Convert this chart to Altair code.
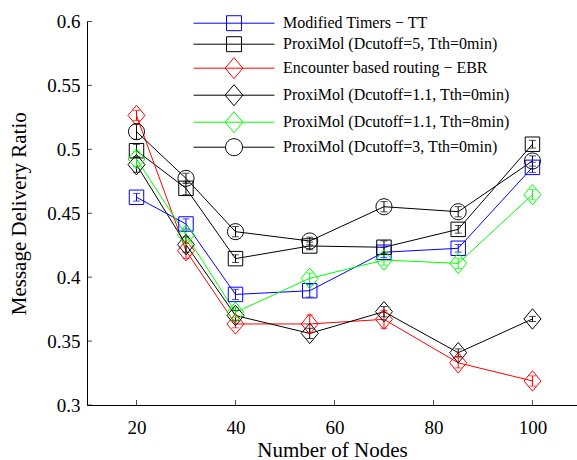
import altair as alt
import pandas as pd

nodes = [20, 30, 40, 55, 70, 85, 100]
series_names = [
    "Modified Timers − TT",
    "ProxiMol (Dcutoff=5, Tth=0min)",
    "Encounter based routing − EBR",
    "ProxiMol (Dcutoff=1.1, Tth=0min)",
    "ProxiMol (Dcutoff=1.1, Tth=8min)",
    "ProxiMol (Dcutoff=3, Tth=0min)",
]
tt_vals = [0.4625, 0.4416, 0.3865, 0.3894, 0.4195, 0.4226, 0.4859]
d5_vals = [0.4989, 0.4695, 0.4145, 0.4244, 0.4234, 0.4374, 0.5040]
ebr_vals = [0.5265, 0.4207, 0.3634, 0.3634, 0.3670, 0.3330, 0.3188]
d11t0_vals = [0.4880, 0.4255, 0.3700, 0.3560, 0.3730, 0.3409, 0.3673]
d11t8_vals = [0.4925, 0.4330, 0.3725, 0.3991, 0.4134, 0.4108, 0.4645]
d3_vals = [0.5138, 0.4773, 0.4356, 0.4283, 0.4551, 0.4512, 0.4909]

tt_err = [0.003, 0.004, 0.004, 0.005, 0.004, 0.003, 0.004]
d5_err = [0.005, 0.005, 0.003, 0.003, 0.005, 0.003, 0.003]
ebr_err = [0.004, 0.006, 0.003, 0.007, 0.007, 0.004, 0.004]
d11t0_err = [0.006, 0.006, 0.004, 0.004, 0.004, 0.003, 0.002]
d11t8_err = [0.006, 0.004, 0.004, 0.004, 0.004, 0.004, 0.004]
d3_err = [0.006, 0.004, 0.004, 0.003, 0.004, 0.004, 0.004]

series_colors = ["#0000ff", "#000000", "#ff0000", "#000000", "#00ff00", "#000000"]

x_ticks = [20, 40, 60, 80, 100]
y_ticks = [0.3, 0.35, 0.4, 0.45, 0.5, 0.55, 0.6]
x_domain = [10, 109]
y_domain = [0.3, 0.6]

all_vals = [tt_vals, d5_vals, ebr_vals, d11t0_vals, d11t8_vals, d3_vals]
all_errs = [tt_err, d5_err, ebr_err, d11t0_err, d11t8_err, d3_err]

rows = []
for name, vals, errs in zip(series_names, all_vals, all_errs):
    for n, v, e in zip(nodes, vals, errs):
        rows.append({"series": name, "nodes": n, "value": v, "lo": v - e, "hi": v + e})
df = pd.DataFrame(rows)

# marker shapes (unit space, scaled by sqrt(size)/2)
sq_data = "M-0.85,-0.85H0.85V0.85H-0.85Z"
di_data = "M-1,0L0,-1.2L1,0L0,1.2Z"
ci_data = "M0.94,0A0.94,0.94,0,1,1,-0.94,0A0.94,0.94,0,1,1,0.94,0Z"
L = 4.76
sq_leg = f"M{-L},0H{L}M-0.88,-0.88H0.88V0.88H-0.88Z"
di_leg = f"M{-L},0H{L}M-1.04,0L0,-1.24L1.04,0L0,1.24Z"
ci_leg = f"M{-L},0H-1M1,0H{L}M1,0A1,1,0,1,1,-1,0A1,1,0,1,1,1,0Z"

data_shapes = [sq_data, sq_data, di_data, di_data, di_data, ci_data]
leg_shapes = [sq_leg, sq_leg, di_leg, di_leg, di_leg, ci_leg]

FONT = "Liberation Serif"

xs = alt.Scale(domain=x_domain, nice=False, zero=False)
ys = alt.Scale(domain=y_domain, nice=False, zero=False)

X = alt.X(
    "nodes:Q",
    scale=xs,
    axis=alt.Axis(
        values=x_ticks, ticks=False, tickSize=0, grid=False, labelFont=FONT,
        labelFontSize=19, labelColor="black", labelPadding=13, domainColor="black",
        domainWidth=1, title="Number of Nodes", titleFont=FONT, titleFontSize=21,
        titleFontWeight="normal", titleColor="black", titleY=51,
        titleBaseline="alphabetic",
    ),
)
Y = alt.Y(
    "value:Q",
    scale=ys,
    axis=alt.Axis(
        values=y_ticks, ticks=False, tickSize=0, grid=False, format=".2~f",
        labelFont=FONT, labelFontSize=19, labelColor="black", labelPadding=7,
        domainColor="black", domainWidth=1, title="Message Delivery Ratio",
        titleFont=FONT, titleFontSize=21, titleFontWeight="normal",
        titleColor="black", titleX=-68, titleY=191.75, titleBaseline="middle",
    ),
)


def color_enc(legend=None):
    return alt.Color(
        "series:N",
        scale=alt.Scale(domain=series_names, range=series_colors),
        legend=legend,
    )


base = alt.Chart(df)

lines = base.mark_line(strokeWidth=1).encode(x=X, y=Y, color=color_enc())
rules = base.mark_rule(strokeWidth=1).encode(
    x=alt.X("nodes:Q", scale=xs), y=alt.Y("lo:Q", scale=ys), y2="hi:Q", color=color_enc()
)
caps_lo = base.mark_tick(orient="horizontal", size=7, thickness=1).encode(
    x=alt.X("nodes:Q", scale=xs), y=alt.Y("lo:Q", scale=ys), color=color_enc()
)
caps_hi = base.mark_tick(orient="horizontal", size=7, thickness=1).encode(
    x=alt.X("nodes:Q", scale=xs), y=alt.Y("hi:Q", scale=ys), color=color_enc()
)
points = base.mark_point(filled=False, size=289, strokeWidth=1, opacity=1).encode(
    x=alt.X("nodes:Q", scale=xs),
    y=alt.Y("value:Q", scale=ys),
    color=color_enc(),
    shape=alt.Shape("series:N", scale=alt.Scale(domain=series_names, range=data_shapes), legend=None),
)

leg = alt.Legend(
    orient="none", legendX=138, legendY=-7.3, title=None, labelFont=FONT,
    labelFontSize=16, labelColor="black", labelOffset=40, labelLimit=400,
    symbolSize=289, symbolStrokeWidth=1, rowPadding=1, padding=0,
    direction="vertical",
)
legend_layer = base.mark_point(filled=False, size=289, strokeWidth=1, opacity=1).encode(
    x=alt.X("nodes:Q", scale=xs),
    y=alt.Y("value:Q", scale=ys),
    color=color_enc(leg),
    shape=alt.Shape("series:N", scale=alt.Scale(domain=series_names, range=leg_shapes), legend=leg),
).transform_filter("false")

xt_df = pd.DataFrame({"t": x_ticks})
yt_df = pd.DataFrame({"t": y_ticks})
xtick_marks = alt.Chart(xt_df).mark_tick(
    orient="vertical", size=5, thickness=1, color="black", yOffset=-2.5
).encode(x=alt.X("t:Q", scale=xs), y=alt.datum(y_domain[0]))
ytick_marks = alt.Chart(yt_df).mark_tick(
    orient="horizontal", size=5, thickness=1, color="black", xOffset=2.5
).encode(y=alt.Y("t:Q", scale=ys), x=alt.datum(x_domain[0]))

chart = (
    alt.layer(lines, rules, caps_lo, caps_hi, points, legend_layer, xtick_marks, ytick_marks)
    .resolve_scale(color="independent", shape="independent")
    .properties(
        width=490,
        height=383.5,
        autosize=alt.AutoSizeParams(type="none"),
        padding={"left": 87, "top": 21.5, "right": 0, "bottom": 55},
        background="white",
    )
    .configure_view(stroke=None)
)

chart.save("out.html", embed_options={"renderer": "svg", "actions": False})
